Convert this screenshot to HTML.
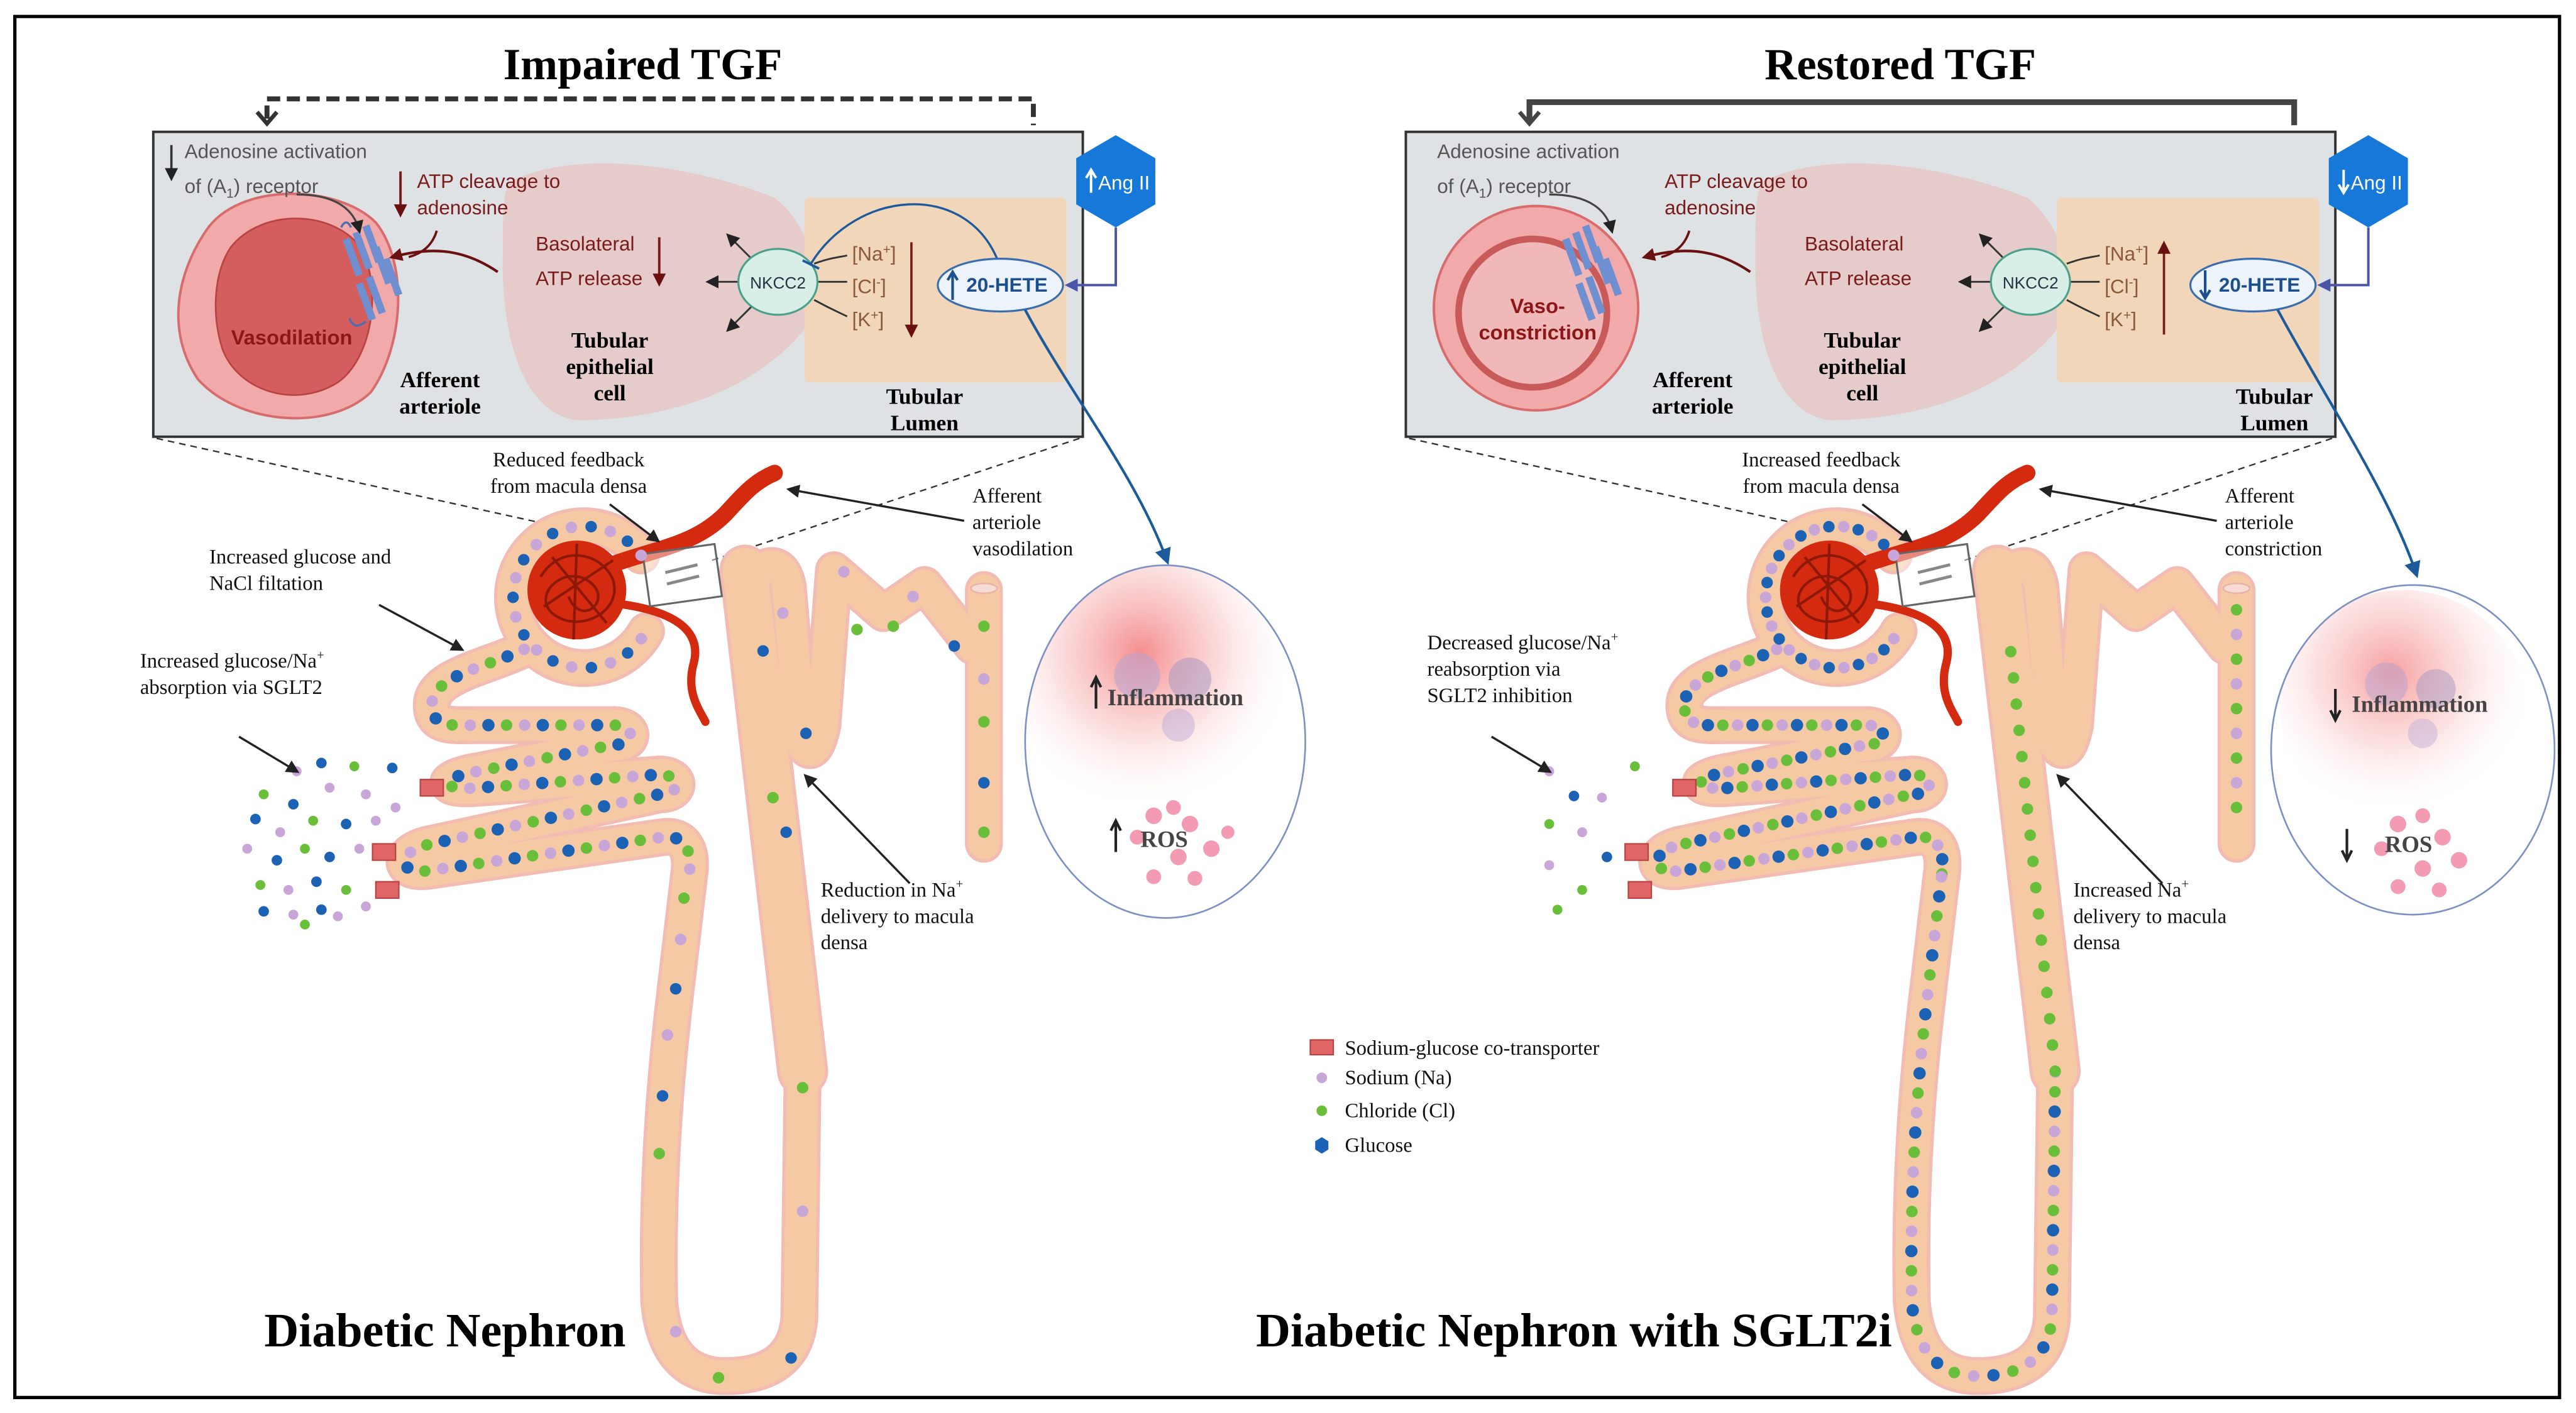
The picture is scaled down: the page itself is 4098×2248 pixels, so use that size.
<!DOCTYPE html>
<html><head><meta charset="utf-8"><style>
html,body{margin:0;padding:0;background:#fff}
svg{display:block}
.s{font-family:"Liberation Serif",serif}
.a{font-family:"Liberation Sans",sans-serif}
</style></head><body>
<svg width="4098" height="2248" viewBox="0 0 1563 857.4" xmlns="http://www.w3.org/2000/svg">
<defs>
<marker id="ah" markerWidth="8" markerHeight="8" refX="6" refY="4" orient="auto" markerUnits="userSpaceOnUse"><path d="M0,0 L8,4 L0,8 Z" fill="#222"/></marker>
<marker id="ahr" markerWidth="8" markerHeight="8" refX="6" refY="4" orient="auto" markerUnits="userSpaceOnUse"><path d="M0,0 L8,4 L0,8 Z" fill="#6b1010"/></marker>
<marker id="ahb" markerWidth="10" markerHeight="10" refX="7" refY="5" orient="auto" markerUnits="userSpaceOnUse"><path d="M0,0 L10,5 L0,10 Z" fill="#1d5a9c"/></marker>
<marker id="ahv" markerWidth="8" markerHeight="8" refX="6" refY="4" orient="auto" markerUnits="userSpaceOnUse"><path d="M0,0 L8,4 L0,8 Z" fill="#4a55a8"/></marker>
<radialGradient id="inf" cx="0.45" cy="0.35" r="0.6"><stop offset="0" stop-color="#f37a7a" stop-opacity="0.85"/><stop offset="0.5" stop-color="#f9c2c2" stop-opacity="0.6"/><stop offset="1" stop-color="#fff" stop-opacity="0"/></radialGradient>
<clipPath id="cl1"><ellipse cx="707" cy="450" rx="85" ry="107"/></clipPath>
<clipPath id="cl2"><ellipse cx="1464" cy="455" rx="86" ry="100"/></clipPath>
<path id="pct" d="M318,394 C295,405 262,410 262,428 C262,442 275,440 290,440 L372,440 C386,440 386,452 372,452 L290,468 C266,472 266,480 290,478 L400,470 C414,470 414,482 400,482 L262,512 C240,516 240,532 262,528 L402,508 C418,506 420,520 418,532"/>
<path id="loop" d="M418,532 L410,600 Q398,700 400,790 Q404,835 440,835 Q482,835 485,800 L487,650"/>

<g id="tubes">
 <g fill="none" stroke-linecap="round" stroke-linejoin="round">
  <g stroke="#f2bcb2" stroke-width="23">
   <use href="#pct"/><use href="#loop"/>
   <path d="M389,337 A43,43 0 1 0 392,383"/>
   <path d="M458,348 Q474,336 478,356 L486,450 Q494,464 499,440 L506,346 L536,372 L561,355 L590,392"/>
   <path d="M597,358 L597,512"/>
  </g>
  <path d="M487,650 L452,346" stroke="#f2bcb2" stroke-width="31"/>
  <g stroke="#f6c9a5" stroke-width="19">
   <use href="#pct"/><use href="#loop"/>
   <path d="M389,337 A43,43 0 1 0 392,383"/>
   <path d="M458,348 Q474,336 478,356 L486,450 Q494,464 499,440 L506,346 L536,372 L561,355 L590,392"/>
   <path d="M597,358 L597,512"/>
  </g>
  <path d="M487,650 L452,346" stroke="#f6c9a5" stroke-width="27"/>
  <ellipse cx="597" cy="357" rx="8" ry="3" fill="#f7dcd5" stroke="#e9b3a9"/>
 </g>
 <path d="M365,345 C395,333 420,332 440,312 C452,299 458,292 470,287" fill="none" stroke="#d42b10" stroke-width="10" stroke-linecap="round"/>
 <path d="M372,366 C408,370 426,382 421,402 C416,420 424,430 428,438" fill="none" stroke="#d42b10" stroke-width="5" stroke-linecap="round"/>
 <circle cx="350" cy="358" r="30" fill="#d42b10"/>
 <g fill="none" stroke="#8e1808" stroke-width="1.6">
  <path d="M328,350 C340,330 365,335 372,352 C378,372 350,385 335,372 C322,360 345,340 360,355 C370,366 352,380 345,362"/>
  <path d="M335,338 L368,378 M330,368 L372,340 M350,330 L348,388"/>
 </g>
 <g transform="rotate(-8 414 349)"><rect x="392" y="333" width="44" height="32" fill="#fff" fill-opacity="0.45" stroke="#666" stroke-width="1.2"/>
 <path d="M404,346 L424,344 M404,353 L424,351" stroke="#888" stroke-width="1.8"/></g>
</g>
</defs>

<rect x="9" y="10" width="1544" height="838" fill="#fff" stroke="#000" stroke-width="2"/>

<!-- ========== LEFT ========== -->
<text x="390" y="48" class="s" font-size="27" font-weight="bold" text-anchor="middle">Impaired TGF</text>
<path d="M162,72 L162,60 L627,60 L627,76" fill="none" stroke="#333" stroke-width="3" stroke-dasharray="8,4"/>
<path d="M156,68 L162,75 L168,68" fill="none" stroke="#333" stroke-width="2.5"/>

<rect x="93" y="80" width="564" height="185" fill="#dfe2e5" stroke="#333" stroke-width="1.5"/>
<path d="M310,110 C350,90 420,100 470,120 C495,140 500,175 488,200 C455,240 400,255 350,255 C315,250 305,200 305,160 C305,130 305,115 310,110 Z" fill="#e5cccb"/>
<rect x="488" y="120" width="159" height="112" rx="3" fill="#f1d6ba"/>
<path d="M125,140 C145,110 205,112 228,135 C248,160 245,210 225,238 C200,262 145,258 120,230 C100,200 108,165 125,140 Z" fill="#f2a9a9" stroke="#d86b6b" stroke-width="1.5"/>
<path d="M140,150 C160,125 205,128 220,152 C232,178 225,218 205,232 C180,248 145,238 135,212 C128,190 130,165 140,150 Z" fill="#d45d5d" stroke="#b84242"/>
<text x="177" y="209" class="a" font-size="12.5" font-weight="bold" fill="#8d1717" text-anchor="middle">Vasodilation</text>
<g fill="none" stroke="#4a6fb0" stroke-width="1.3">
 <path d="M210,145 l8,22 M216,141 l8,22 M222,137 l8,22 M228,150 l8,22 M234,157 l8,22 M218,172 l8,22 M224,168 l8,22" stroke="#6f8fd0" stroke-width="4.5"/>
 <path d="M207,138 q3,-6 6,0 M212,193 q3,8 10,2"/>
</g>
<text x="112" y="96" class="a" font-size="12" fill="#555">Adenosine activation</text>
<text x="112" y="117" class="a" font-size="12" fill="#555">of (A<tspan font-size="8" dy="3">1</tspan><tspan dy="-3">) receptor</tspan></text>
<path d="M104,88 L104,108" stroke="#333" stroke-width="1.4" marker-end="url(#ah)"/>
<path d="M180,118 C205,118 215,128 218,140" fill="none" stroke="#444" stroke-width="1.2" marker-end="url(#ah)"/>
<text x="253" y="114" class="a" font-size="12" fill="#7a1a1a">ATP cleavage to</text>
<text x="253" y="130" class="a" font-size="12" fill="#7a1a1a">adenosine</text>
<path d="M243,104 L243,130" stroke="#7a1a1a" stroke-width="1.5" marker-end="url(#ahr)"/>
<path d="M302,165 C280,150 260,150 238,156" fill="none" stroke="#6b1010" stroke-width="1.6" marker-end="url(#ahr)"/>
<path d="M265,140 C262,150 255,154 248,156" fill="none" stroke="#6b1010" stroke-width="1.4"/>
<text x="325" y="152" class="a" font-size="12" fill="#7a1a1a">Basolateral</text>
<text x="325" y="173" class="a" font-size="12" fill="#7a1a1a">ATP release</text>
<path d="M400,144 L400,172" stroke="#7a1a1a" stroke-width="1.5" marker-end="url(#ahr)"/>
<text x="370" y="211" class="s" font-size="13.5" font-weight="bold" text-anchor="middle">Tubular</text>
<text x="370" y="227" class="s" font-size="13.5" font-weight="bold" text-anchor="middle">epithelial</text>
<text x="370" y="243" class="s" font-size="13.5" font-weight="bold" text-anchor="middle">cell</text>
<text x="267" y="235" class="s" font-size="13.5" font-weight="bold" text-anchor="middle">Afferent</text>
<text x="267" y="251" class="s" font-size="13.5" font-weight="bold" text-anchor="middle">arteriole</text>
<text x="561" y="245" class="s" font-size="13.5" font-weight="bold" text-anchor="middle">Tubular</text>
<text x="561" y="261" class="s" font-size="13.5" font-weight="bold" text-anchor="middle">Lumen</text>
<g stroke="#333" stroke-width="1.1" fill="none">
 <path d="M448,171 L430,171" marker-end="url(#ah)"/>
 <path d="M456,157 L442,143" marker-end="url(#ah)"/>
 <path d="M456,186 L442,200" marker-end="url(#ah)"/>
 <path d="M496,171 L514,171 M494,160 C505,156 510,156 514,155 M494,182 C505,188 510,190 514,192"/>
</g>
<ellipse cx="472" cy="171" rx="24" ry="20" fill="#d8efe7" stroke="#4aa08a" stroke-width="1.2"/>
<text x="472" y="175" class="a" font-size="10" fill="#234" text-anchor="middle">NKCC2</text>
<text x="517" y="158" class="a" font-size="12" fill="#8a5a3a">[Na<tspan font-size="8" dy="-4">+</tspan><tspan dy="4">]</tspan></text>
<text x="517" y="178" class="a" font-size="12" fill="#8a5a3a">[Cl<tspan font-size="8" dy="-4">-</tspan><tspan dy="4">]</tspan></text>
<text x="517" y="198" class="a" font-size="12" fill="#8a5a3a">[K<tspan font-size="8" dy="-4">+</tspan><tspan dy="4">]</tspan></text>
<path d="M553,147 L553,203" stroke="#7a1a1a" stroke-width="1.4" marker-end="url(#ahr)"/>
<path d="M605,157 C585,110 520,115 492,160" fill="none" stroke="#1d5a9c" stroke-width="1.3"/>
<path d="M487,158 L497,163" stroke="#1d5a9c" stroke-width="1.5"/>
<ellipse cx="607" cy="173" rx="38" ry="16" fill="#edf3fb" stroke="#3a6db0" stroke-width="1.2"/>
<text x="611" y="177" class="a" font-size="12" font-weight="bold" fill="#1d4f8f" text-anchor="middle">20-HETE</text>
<path d="M578,182 L578,166 M575,170 L578,165 L581,170" stroke="#1d4f8f" stroke-width="1.6" fill="none"/>
<polygon points="677,82 701,96 701,124 677,138 653,124 653,96" fill="#1679d9"/>
<text x="682" y="115" class="a" font-size="12" fill="#fff" text-anchor="middle">Ang II</text>
<path d="M662,117 L662,104 M659,108 L662,103 L665,108" stroke="#fff" stroke-width="1.5" fill="none"/>
<path d="M677,138 L677,173 L648,173" fill="none" stroke="#4a55a8" stroke-width="1.5" marker-end="url(#ahv)"/>
<path d="M622,188 C650,240 690,290 708,340" fill="none" stroke="#1d5a9c" stroke-width="1.6" marker-end="url(#ahb)"/>

<path d="M95,266 L400,333" stroke="#333" stroke-width="0.9" stroke-dasharray="4,3"/>
<path d="M655,266 L432,340" stroke="#333" stroke-width="0.9" stroke-dasharray="4,3"/>

<use href="#tubes"/>
<g fill="none" stroke-linecap="round">
 <use href="#pct" stroke="#c9a6d8" stroke-width="7" stroke-dasharray="0 33"/>
 <use href="#pct" stroke="#6abf3a" stroke-width="7" stroke-dasharray="0 33" stroke-dashoffset="11"/>
 <use href="#pct" stroke="#1b62b5" stroke-width="7.5" stroke-dasharray="0 33" stroke-dashoffset="22"/>
 <path d="M389,337 A43,43 0 1 0 392,383" stroke="#c9a6d8" stroke-width="7" stroke-dasharray="0 24"/>
 <path d="M389,337 A43,43 0 1 0 392,383" stroke="#1b62b5" stroke-width="7" stroke-dasharray="0 24" stroke-dashoffset="12"/>
</g>
<g>
 <circle cx="475" cy="372" r="3.5" fill="#c9a6d8"/><circle cx="463" cy="395" r="3.5" fill="#1b62b5"/><circle cx="477" cy="505" r="3.5" fill="#1b62b5"/><circle cx="469" cy="484" r="3.5" fill="#6abf3a"/><circle cx="489" cy="445" r="3.5" fill="#1b62b5"/>
 <circle cx="520" cy="382" r="3.5" fill="#6abf3a"/><circle cx="512" cy="347" r="3.5" fill="#c9a6d8"/><circle cx="554" cy="362" r="3.5" fill="#c9a6d8"/><circle cx="542" cy="380" r="3.5" fill="#6abf3a"/><circle cx="579" cy="392" r="3.5" fill="#1b62b5"/>
 <circle cx="597" cy="380" r="3.5" fill="#6abf3a"/><circle cx="597" cy="412" r="3.5" fill="#c9a6d8"/><circle cx="597" cy="438" r="3.5" fill="#6abf3a"/><circle cx="597" cy="475" r="3.5" fill="#1b62b5"/><circle cx="597" cy="505" r="3.5" fill="#6abf3a"/>
 <circle cx="415" cy="545" r="3.5" fill="#6abf3a"/><circle cx="413" cy="570" r="3.5" fill="#c9a6d8"/><circle cx="410" cy="600" r="3.5" fill="#1b62b5"/>
 <circle cx="405" cy="628" r="3.5" fill="#c9a6d8"/><circle cx="402" cy="665" r="3.5" fill="#1b62b5"/><circle cx="400" cy="700" r="3.5" fill="#6abf3a"/><circle cx="410" cy="808" r="3.5" fill="#c9a6d8"/><circle cx="480" cy="824" r="3.5" fill="#1b62b5"/><circle cx="436" cy="836" r="3.5" fill="#6abf3a"/><circle cx="487" cy="735" r="3.5" fill="#c9a6d8"/><circle cx="487" cy="660" r="3.5" fill="#6abf3a"/>
</g>
<g fill="#e06565" stroke="#b84040" stroke-width="0.8">
 <rect x="255" y="473" width="14" height="10"/><rect x="226" y="512" width="14" height="10"/><rect x="228" y="535" width="14" height="10"/>
</g>
<g>
 <circle cx="180" cy="468" r="3" fill="#c9a6d8"/><circle cx="195" cy="463" r="3.2" fill="#1b62b5"/><circle cx="215" cy="465" r="3" fill="#6abf3a"/><circle cx="238" cy="466" r="3.2" fill="#1b62b5"/>
 <circle cx="160" cy="482" r="3" fill="#6abf3a"/><circle cx="178" cy="488" r="3.2" fill="#1b62b5"/><circle cx="200" cy="478" r="3" fill="#c9a6d8"/><circle cx="222" cy="482" r="3" fill="#c9a6d8"/><circle cx="240" cy="490" r="3" fill="#c9a6d8"/>
 <circle cx="155" cy="497" r="3.2" fill="#1b62b5"/><circle cx="170" cy="505" r="3" fill="#c9a6d8"/><circle cx="190" cy="498" r="3" fill="#6abf3a"/><circle cx="210" cy="500" r="3.2" fill="#1b62b5"/><circle cx="228" cy="498" r="3" fill="#c9a6d8"/>
 <circle cx="150" cy="515" r="3" fill="#c9a6d8"/><circle cx="168" cy="522" r="3.2" fill="#1b62b5"/><circle cx="185" cy="515" r="3" fill="#6abf3a"/><circle cx="200" cy="520" r="3.2" fill="#1b62b5"/><circle cx="218" cy="515" r="3" fill="#c9a6d8"/>
 <circle cx="158" cy="537" r="3" fill="#6abf3a"/><circle cx="175" cy="540" r="3" fill="#c9a6d8"/><circle cx="192" cy="535" r="3.2" fill="#1b62b5"/><circle cx="210" cy="540" r="3" fill="#6abf3a"/><circle cx="222" cy="550" r="3" fill="#c9a6d8"/>
 <circle cx="160" cy="553" r="3.2" fill="#1b62b5"/><circle cx="178" cy="555" r="3" fill="#c9a6d8"/><circle cx="195" cy="552" r="3.2" fill="#1b62b5"/><circle cx="185" cy="561" r="3" fill="#6abf3a"/><circle cx="205" cy="556" r="3" fill="#c9a6d8"/>
</g>
<g class="s" font-size="12.5" fill="#111">
 <text x="345" y="283" text-anchor="middle">Reduced feedback</text>
 <text x="345" y="299" text-anchor="middle">from macula densa</text>
 <text x="590" y="305">Afferent</text><text x="590" y="321">arteriole</text><text x="590" y="337">vasodilation</text>
 <text x="127" y="342">Increased glucose and</text><text x="127" y="358">NaCl  filtation</text>
 <text x="85" y="405">Increased glucose/Na<tspan font-size="8" dy="-5">+</tspan></text><text x="85" y="421">absorption via SGLT2</text>
 <text x="498" y="544">Reduction in  Na<tspan font-size="8" dy="-5">+</tspan></text><text x="498" y="560">delivery to macula</text><text x="498" y="576">densa</text>
</g>
<g stroke="#222" stroke-width="1.3" fill="none">
 <path d="M370,306 L399,328" marker-end="url(#ah)"/>
 <path d="M585,316 L479,297" marker-end="url(#ah)"/>
 <path d="M230,367 L280,394" marker-end="url(#ah)"/>
 <path d="M145,447 L180,468" marker-end="url(#ah)"/>
 <path d="M552,536 L489,471" marker-end="url(#ah)"/>
</g>
<ellipse cx="707" cy="450" rx="85" ry="107" fill="#fff"/>
<g clip-path="url(#cl1)">
<ellipse cx="700" cy="420" rx="80" ry="80" fill="url(#inf)"/>
<g opacity="0.55"><circle cx="690" cy="410" r="14" fill="#b8a3cf"/><circle cx="722" cy="412" r="13" fill="#a99ac2"/><circle cx="715" cy="440" r="10" fill="#c4b2d8"/></g>
</g>
<ellipse cx="707" cy="450" rx="85" ry="107" fill="none" stroke="#7d90c4" stroke-width="1"/>
<g fill="#f08aa5" opacity="0.85"><circle cx="700" cy="495" r="5"/><circle cx="712" cy="490" r="4.5"/><circle cx="722" cy="500" r="5"/><circle cx="690" cy="508" r="4.5"/><circle cx="735" cy="515" r="5"/><circle cx="715" cy="520" r="5"/><circle cx="700" cy="532" r="4.5"/><circle cx="725" cy="533" r="4.5"/><circle cx="745" cy="505" r="4"/></g>
<text x="672" y="428" class="s" font-size="14" font-weight="bold" fill="#444">Inflammation</text>
<text x="692" y="514" class="s" font-size="14" font-weight="bold" fill="#444">ROS</text>
<path d="M665,430 L665,413 M662,417 L665,411 L668,417" stroke="#222" stroke-width="1.6" fill="none"/>
<path d="M677,517 L677,500 M674,504 L677,498 L680,504" stroke="#222" stroke-width="1.6" fill="none"/>
<text x="270" y="817" class="s" font-size="29" font-weight="bold" text-anchor="middle">Diabetic Nephron</text>

<!-- ========== RIGHT ========== -->
<text x="1153" y="48" class="s" font-size="27" font-weight="bold" text-anchor="middle">Restored TGF</text>
<path d="M928,74 L928,62 L1392,62 L1392,76" fill="none" stroke="#444" stroke-width="3.5"/>
<path d="M922,68 L928,75 L934,68" fill="none" stroke="#444" stroke-width="2.5"/>
<rect x="853" y="80" width="564" height="185" fill="#dfe2e5" stroke="#333" stroke-width="1.5"/>
<path d="M1070,110 C1110,90 1180,100 1230,120 C1255,140 1260,175 1248,200 C1215,240 1160,255 1110,255 C1075,250 1065,200 1065,160 C1065,130 1065,115 1070,110 Z" fill="#e5cccb"/>
<rect x="1248" y="120" width="159" height="112" rx="3" fill="#f1d6ba"/>
<circle cx="932" cy="187" r="62" fill="#f2a9a9" stroke="#d86b6b" stroke-width="1.5"/>
<circle cx="930" cy="190" r="45" fill="#f0b8b8" stroke="#c85a5a" stroke-width="4"/>
<text x="933" y="190" class="a" font-size="12.5" font-weight="bold" fill="#8d1717" text-anchor="middle">Vaso-</text>
<text x="933" y="206" class="a" font-size="12.5" font-weight="bold" fill="#8d1717" text-anchor="middle">constriction</text>
<g fill="none" stroke="#6f8fd0" stroke-width="4.5">
 <path d="M950,145 l8,22 M956,141 l8,22 M962,137 l8,22 M968,150 l8,22 M974,157 l8,22 M958,172 l8,22 M964,168 l8,22"/>
</g>
<text x="872" y="96" class="a" font-size="12" fill="#555">Adenosine activation</text>
<text x="872" y="117" class="a" font-size="12" fill="#555">of (A<tspan font-size="8" dy="3">1</tspan><tspan dy="-3">) receptor</tspan></text>
<path d="M940,118 C965,118 975,128 978,140" fill="none" stroke="#444" stroke-width="1.2" marker-end="url(#ah)"/>
<text x="1010" y="114" class="a" font-size="12" fill="#7a1a1a">ATP cleavage to</text>
<text x="1010" y="130" class="a" font-size="12" fill="#7a1a1a">adenosine</text>
<path d="M1062,165 C1040,150 1020,150 998,156" fill="none" stroke="#6b1010" stroke-width="1.6" marker-end="url(#ahr)"/>
<path d="M1025,140 C1022,150 1015,154 1008,156" fill="none" stroke="#6b1010" stroke-width="1.4"/>
<text x="1095" y="152" class="a" font-size="12" fill="#7a1a1a">Basolateral</text>
<text x="1095" y="173" class="a" font-size="12" fill="#7a1a1a">ATP release</text>
<text x="1130" y="211" class="s" font-size="13.5" font-weight="bold" text-anchor="middle">Tubular</text>
<text x="1130" y="227" class="s" font-size="13.5" font-weight="bold" text-anchor="middle">epithelial</text>
<text x="1130" y="243" class="s" font-size="13.5" font-weight="bold" text-anchor="middle">cell</text>
<text x="1027" y="235" class="s" font-size="13.5" font-weight="bold" text-anchor="middle">Afferent</text>
<text x="1027" y="251" class="s" font-size="13.5" font-weight="bold" text-anchor="middle">arteriole</text>
<text x="1380" y="245" class="s" font-size="13.5" font-weight="bold" text-anchor="middle">Tubular</text>
<text x="1380" y="261" class="s" font-size="13.5" font-weight="bold" text-anchor="middle">Lumen</text>
<g stroke="#333" stroke-width="1.1" fill="none">
 <path d="M1208,171 L1190,171" marker-end="url(#ah)"/>
 <path d="M1216,157 L1202,143" marker-end="url(#ah)"/>
 <path d="M1216,186 L1202,200" marker-end="url(#ah)"/>
 <path d="M1256,171 L1274,171 M1254,160 C1265,156 1270,156 1274,155 M1254,182 C1265,188 1270,190 1274,192"/>
</g>
<ellipse cx="1232" cy="171" rx="24" ry="20" fill="#d8efe7" stroke="#4aa08a" stroke-width="1.2"/>
<text x="1232" y="175" class="a" font-size="10" fill="#234" text-anchor="middle">NKCC2</text>
<text x="1277" y="158" class="a" font-size="12" fill="#8a5a3a">[Na<tspan font-size="8" dy="-4">+</tspan><tspan dy="4">]</tspan></text>
<text x="1277" y="178" class="a" font-size="12" fill="#8a5a3a">[Cl<tspan font-size="8" dy="-4">-</tspan><tspan dy="4">]</tspan></text>
<text x="1277" y="198" class="a" font-size="12" fill="#8a5a3a">[K<tspan font-size="8" dy="-4">+</tspan><tspan dy="4">]</tspan></text>
<path d="M1313,203 L1313,148" stroke="#7a1a1a" stroke-width="1.4" marker-end="url(#ahr)"/>
<ellipse cx="1367" cy="173" rx="38" ry="16" fill="#edf3fb" stroke="#3a6db0" stroke-width="1.2"/>
<text x="1371" y="177" class="a" font-size="12" font-weight="bold" fill="#1d4f8f" text-anchor="middle">20-HETE</text>
<path d="M1338,164 L1338,180 M1335,176 L1338,181 L1341,176" stroke="#1d4f8f" stroke-width="1.6" fill="none"/>
<polygon points="1437,82 1461,96 1461,124 1437,138 1413,124 1413,96" fill="#1679d9"/>
<text x="1442" y="115" class="a" font-size="12" fill="#fff" text-anchor="middle">Ang II</text>
<path d="M1422,103 L1422,116 M1419,112 L1422,117 L1425,112" stroke="#fff" stroke-width="1.5" fill="none"/>
<path d="M1437,138 L1437,173 L1408,173" fill="none" stroke="#4a55a8" stroke-width="1.5" marker-end="url(#ahv)"/>
<path d="M1382,188 C1410,240 1450,300 1466,348" fill="none" stroke="#1d5a9c" stroke-width="1.6" marker-end="url(#ahb)"/>
<path d="M855,266 L1160,333" stroke="#333" stroke-width="0.9" stroke-dasharray="4,3"/>
<path d="M1415,266 L1192,340" stroke="#333" stroke-width="0.9" stroke-dasharray="4,3"/>

<g transform="translate(760,0)">
<use href="#tubes"/>
<g fill="none" stroke-linecap="round">
 <use href="#pct" stroke="#c9a6d8" stroke-width="7" stroke-dasharray="0 27"/>
 <use href="#pct" stroke="#6abf3a" stroke-width="7" stroke-dasharray="0 27" stroke-dashoffset="9"/>
 <use href="#pct" stroke="#1b62b5" stroke-width="7.5" stroke-dasharray="0 27" stroke-dashoffset="18"/>
 <use href="#loop" stroke="#c9a6d8" stroke-width="7" stroke-dasharray="0 36"/>
 <use href="#loop" stroke="#6abf3a" stroke-width="7" stroke-dasharray="0 36" stroke-dashoffset="12"/>
 <use href="#loop" stroke="#1b62b5" stroke-width="7.5" stroke-dasharray="0 36" stroke-dashoffset="24"/>
 <path d="M389,337 A43,43 0 1 0 392,383" stroke="#c9a6d8" stroke-width="7" stroke-dasharray="0 18"/>
 <path d="M389,337 A43,43 0 1 0 392,383" stroke="#1b62b5" stroke-width="7" stroke-dasharray="0 18" stroke-dashoffset="9"/>
 <path d="M487,650 L460,395" stroke="#6abf3a" stroke-width="7" stroke-dasharray="0 16"/>
 <path d="M597,370 L597,505" stroke="#6abf3a" stroke-width="7" stroke-dasharray="0 30"/>
 <path d="M597,385 L597,505" stroke="#c9a6d8" stroke-width="7" stroke-dasharray="0 30"/>
</g>
<g fill="#e06565" stroke="#b84040" stroke-width="0.8">
 <rect x="255" y="473" width="14" height="10"/><rect x="226" y="512" width="14" height="10"/><rect x="228" y="535" width="14" height="10"/>
</g>
<g>
 <circle cx="180" cy="468" r="3" fill="#c9a6d8"/><circle cx="195" cy="483" r="3.2" fill="#1b62b5"/><circle cx="232" cy="465" r="3" fill="#6abf3a"/>
 <circle cx="212" cy="484" r="3" fill="#c9a6d8"/><circle cx="180" cy="500" r="3" fill="#6abf3a"/><circle cx="200" cy="505" r="3" fill="#c9a6d8"/>
 <circle cx="215" cy="520" r="3.2" fill="#1b62b5"/><circle cx="180" cy="525" r="3" fill="#c9a6d8"/><circle cx="200" cy="540" r="3" fill="#6abf3a"/><circle cx="185" cy="552" r="3" fill="#6abf3a"/>
</g>
</g>
<g class="s" font-size="12.5" fill="#111">
 <text x="1105" y="283" text-anchor="middle">Increased feedback</text>
 <text x="1105" y="299" text-anchor="middle">from macula densa</text>
 <text x="1350" y="305">Afferent</text><text x="1350" y="321">arteriole</text><text x="1350" y="337">constriction</text>
 <text x="866" y="394">Decreased glucose/Na<tspan font-size="8" dy="-5">+</tspan></text><text x="866" y="410">reabsorption via</text><text x="866" y="426">SGLT2 inhibition</text>
 <text x="1258" y="544">Increased Na<tspan font-size="8" dy="-5">+</tspan></text><text x="1258" y="560">delivery to macula</text><text x="1258" y="576">densa</text>
</g>
<g stroke="#222" stroke-width="1.3" fill="none">
 <path d="M1130,306 L1159,328" marker-end="url(#ah)"/>
 <path d="M1345,316 L1239,297" marker-end="url(#ah)"/>
 <path d="M905,447 L940,468" marker-end="url(#ah)"/>
 <path d="M1312,536 L1249,471" marker-end="url(#ah)"/>
</g>
<ellipse cx="1464" cy="455" rx="86" ry="100" fill="#fff"/>
<g clip-path="url(#cl2)">
<ellipse cx="1458" cy="430" rx="75" ry="72" fill="url(#inf)" opacity="0.85"/>
<g opacity="0.5"><circle cx="1448" cy="415" r="13" fill="#b8a3cf"/><circle cx="1478" cy="418" r="12" fill="#a99ac2"/><circle cx="1470" cy="445" r="9" fill="#c4b2d8"/></g>
</g>
<ellipse cx="1464" cy="455" rx="86" ry="100" fill="none" stroke="#7d90c4" stroke-width="1"/>
<g fill="#f08aa5" opacity="0.85"><circle cx="1455" cy="500" r="5"/><circle cx="1470" cy="495" r="4.5"/><circle cx="1482" cy="508" r="5"/><circle cx="1445" cy="515" r="4.5"/><circle cx="1492" cy="522" r="5"/><circle cx="1470" cy="527" r="5"/><circle cx="1455" cy="538" r="4.5"/><circle cx="1480" cy="540" r="4.5"/></g>
<text x="1427" y="432" class="s" font-size="14" font-weight="bold" fill="#444">Inflammation</text>
<text x="1447" y="517" class="s" font-size="14" font-weight="bold" fill="#444">ROS</text>
<path d="M1417,418 L1417,435 M1414,431 L1417,437 L1420,431" stroke="#222" stroke-width="1.6" fill="none"/>
<path d="M1424,503 L1424,520 M1421,516 L1424,522 L1427,516" stroke="#222" stroke-width="1.6" fill="none"/>
<text x="955" y="817" class="s" font-size="29" font-weight="bold" text-anchor="middle">Diabetic Nephron with SGLT2i</text>

<rect x="795" y="631" width="14" height="9" fill="#e06565" stroke="#b84040" stroke-width="0.8"/>
<circle cx="802" cy="654" r="3.2" fill="#c9a6d8"/>
<circle cx="802" cy="674" r="3.2" fill="#6abf3a"/>
<polygon points="802,690 806,692.5 806,697.5 802,700 798,697.5 798,692.5" fill="#1b62b5"/>
<g class="s" font-size="12.5" fill="#111">
 <text x="816" y="640">Sodium-glucose co-transporter</text>
 <text x="816" y="658">Sodium (Na)</text>
 <text x="816" y="678">Chloride (Cl)</text>
 <text x="816" y="699">Glucose</text>
</g>
</svg>
</body></html>
